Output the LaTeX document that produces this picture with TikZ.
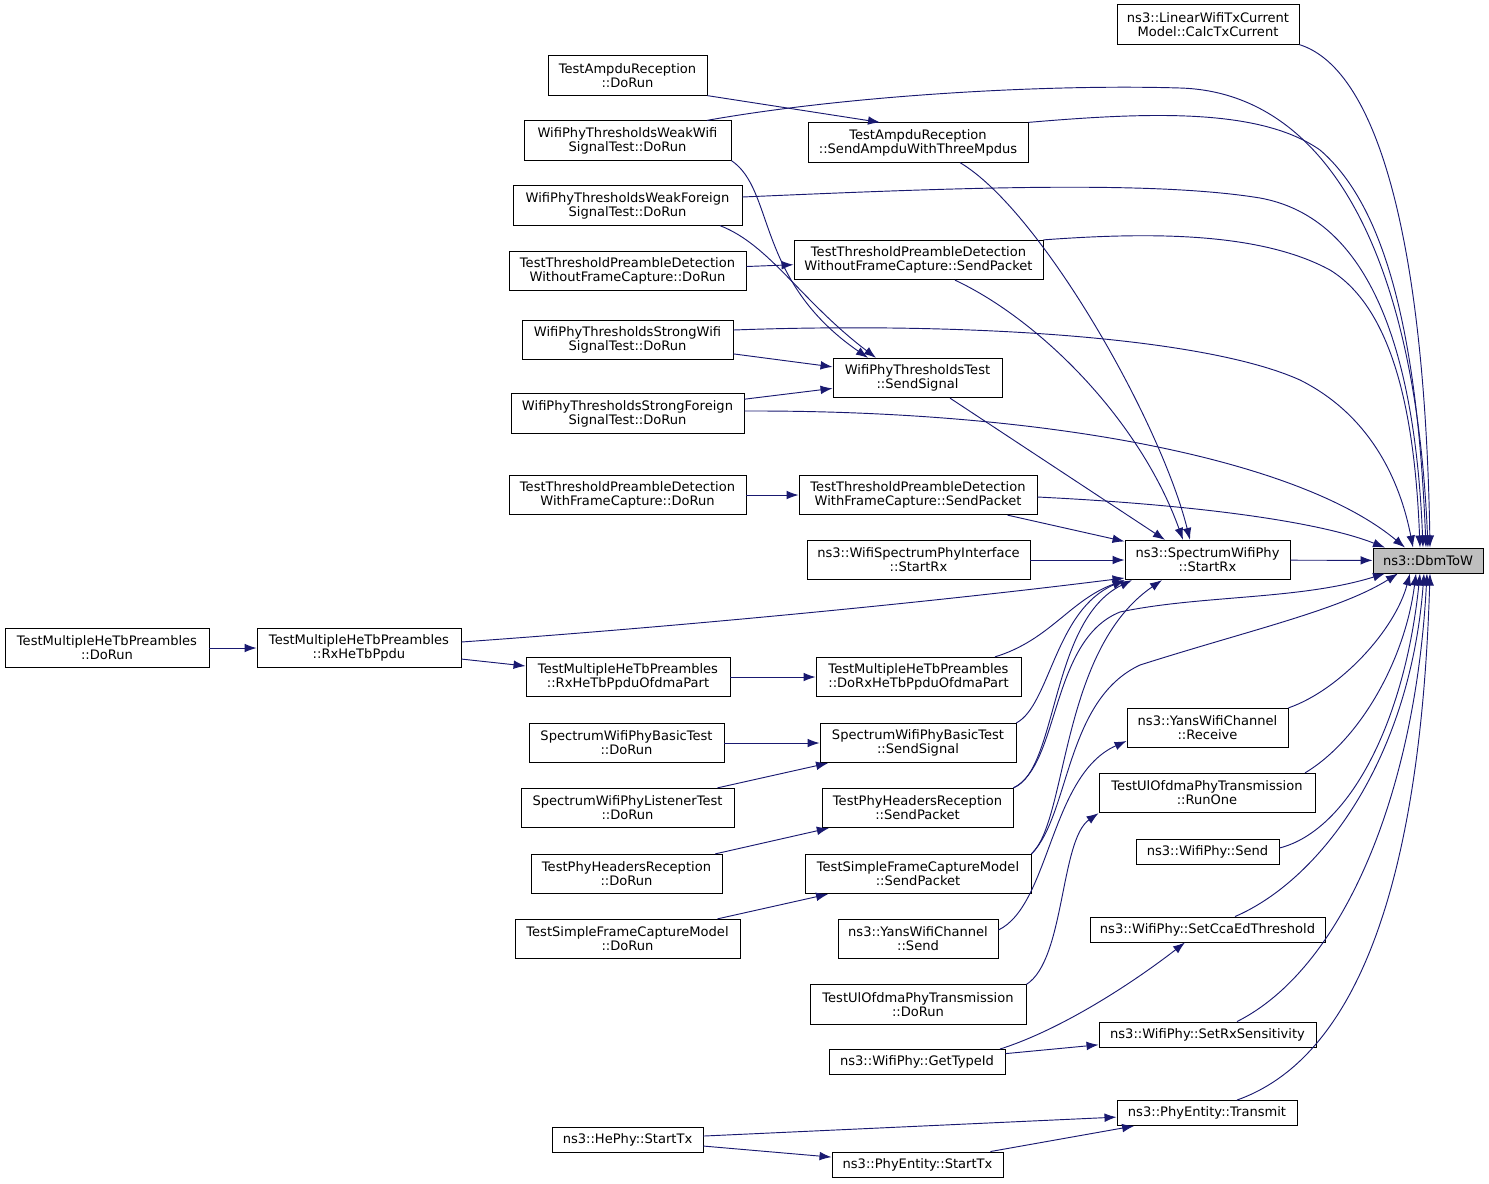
\documentclass[tikz,border=0pt]{standalone}
\usepackage{fontspec}
\newfontfamily\doxfont{DejaVu Sans}
\usetikzlibrary{arrows.meta}
\definecolor{callblue}{HTML}{191970}
\definecolor{rootgray}{HTML}{BFBFBF}
\tikzset{bw/.style={minimum width=#1*0.75pt}}

\begin{document}
\begin{tikzpicture}[x=0.75pt,y=-0.75pt]
\tikzstyle{fn}=[rectangle, draw=black, fill=white, line width=0.7pt, align=center, inner sep=0pt, minimum height=29.5pt, font=\doxfont\fontsize{9.8}{10.5}\selectfont]
\tikzstyle{fn1}=[fn, minimum height=18.75pt]
\tikzstyle{fnroot}=[fn1, fill=rootgray]
\tikzstyle{calls}=[draw=callblue, line width=0.7pt, -{Latex[length=9pt,width=6.5pt]}]
\useasboundingbox (0,0) rectangle (1489,1183);
\node (DbmToW) [fnroot, bw=110] at (1428,560.5) {ns3::DbmToW};
\node (CalcTx) [fn, bw=182] at (1208,24.5) {ns3::LinearWifiTxCurrent\\Model::CalcTxCurrent};
\node (AmpduDoRun) [fn, bw=159] at (627.5,75.5) {TestAmpduReception\\::DoRun};
\node (WeakWifi) [fn, bw=207] at (627.5,140.5) {WifiPhyThresholdsWeakWifi\\SignalTest::DoRun};
\node (SendAmpdu) [fn, bw=220] at (918,142.5) {TestAmpduReception\\::SendAmpduWithThreeMpdus};
\node (WeakForeign) [fn, bw=229] at (627.5,205.5) {WifiPhyThresholdsWeakForeign\\SignalTest::DoRun};
\node (PreWoDoRun) [fn, bw=237] at (627.5,271) {TestThresholdPreambleDetection\\WithoutFrameCapture::DoRun};
\node (PreWoSend) [fn, bw=249] at (918.5,260) {TestThresholdPreambleDetection\\WithoutFrameCapture::SendPacket};
\node (StrongWifi) [fn, bw=211] at (627.5,340) {WifiPhyThresholdsStrongWifi\\SignalTest::DoRun};
\node (SendSignalThr) [fn, bw=169] at (917.5,378) {WifiPhyThresholdsTest\\::SendSignal};
\node (StrongForeign) [fn, bw=233] at (627.5,413.5) {WifiPhyThresholdsStrongForeign\\SignalTest::DoRun};
\node (PreWDoRun) [fn, bw=237] at (627.5,495) {TestThresholdPreambleDetection\\WithFrameCapture::DoRun};
\node (PreWSend) [fn, bw=238] at (918,495) {TestThresholdPreambleDetection\\WithFrameCapture::SendPacket};
\node (SpecIface) [fn, bw=223] at (918.5,560) {ns3::WifiSpectrumPhyInterface\\::StartRx};
\node (StartRx) [fn, bw=165] at (1207.5,560) {ns3::SpectrumWifiPhy\\::StartRx};
\node (MultiDoRun) [fn, bw=204] at (107,648) {TestMultipleHeTbPreambles\\::DoRun};
\node (RxHeTbPpdu) [fn, bw=204] at (359,648) {TestMultipleHeTbPreambles\\::RxHeTbPpdu};
\node (RxOfdmaPart) [fn, bw=204] at (628,677) {TestMultipleHeTbPreambles\\::RxHeTbPpduOfdmaPart};
\node (DoRxOfdma) [fn, bw=205] at (918.5,677) {TestMultipleHeTbPreambles\\::DoRxHeTbPpduOfdmaPart};
\node (BasicDoRun) [fn, bw=195] at (626.5,743) {SpectrumWifiPhyBasicTest\\::DoRun};
\node (BasicSend) [fn, bw=196] at (918,743) {SpectrumWifiPhyBasicTest\\::SendSignal};
\node (ListenerDoRun) [fn, bw=213] at (627.5,808) {SpectrumWifiPhyListenerTest\\::DoRun};
\node (HdrSend) [fn, bw=191] at (917.5,808) {TestPhyHeadersReception\\::SendPacket};
\node (HdrDoRun) [fn, bw=191] at (626.5,874) {TestPhyHeadersReception\\::DoRun};
\node (FrameSend) [fn, bw=226] at (918,874) {TestSimpleFrameCaptureModel\\::SendPacket};
\node (FrameDoRun) [fn, bw=225] at (627.5,939) {TestSimpleFrameCaptureModel\\::DoRun};
\node (YansSend) [fn, bw=160] at (918,939) {ns3::YansWifiChannel\\::Send};
\node (UlDoRun) [fn, bw=216] at (918,1004.5) {TestUlOfdmaPhyTransmission\\::DoRun};
\node (YansRecv) [fn, bw=161] at (1207.5,728) {ns3::YansWifiChannel\\::Receive};
\node (UlRunOne) [fn, bw=216] at (1207,793) {TestUlOfdmaPhyTransmission\\::RunOne};
\node (WifiSend) [fn1, bw=143] at (1207.5,851.5) {ns3::WifiPhy::Send};
\node (SetCca) [fn1, bw=235] at (1207.5,929.5) {ns3::WifiPhy::SetCcaEdThreshold};
\node (SetRxSens) [fn1, bw=217] at (1207.5,1034.5) {ns3::WifiPhy::SetRxSensitivity};
\node (GetTypeId) [fn1, bw=176] at (917,1062) {ns3::WifiPhy::GetTypeId};
\node (Transmit) [fn1, bw=180] at (1207,1113) {ns3::PhyEntity::Transmit};
\node (HeStartTx) [fn1, bw=151] at (627.5,1139.5) {ns3::HePhy::StartTx};
\node (PhyStartTx) [fn1, bw=171] at (917.5,1164.5) {ns3::PhyEntity::StartTx};
\draw[calls] (CalcTx.south east) .. controls (1380,70) and (1425,250) .. (DbmToW.north -| 1430,0);
\draw[calls] (AmpduDoRun.south east) -- (SendAmpdu.north -| 880,0);
\draw[calls] (SendAmpdu.north east) .. controls (1150,112) and (1260,108) .. (1320,150) .. controls (1390,210) and (1418,350) .. (DbmToW.north -| 1426,0);
\draw[calls] (WeakWifi.north -| 707,0) .. controls (850,95) and (1050,84) .. (1180,88) .. controls (1320,92) and (1415,240) .. (DbmToW.north -| 1428,0);
\draw[calls] (WeakWifi.south east) .. controls (775,190) and (755,280) .. (SendSignalThr.north -| 868,0);
\draw[calls] (WeakForeign.east |- 0,197) .. controls (950,188) and (1150,180) .. (1260,198) .. controls (1370,218) and (1415,350) .. (DbmToW.north -| 1423,0);
\draw[calls] (WeakForeign.south -| 720,0) .. controls (770,245) and (800,300) .. (SendSignalThr.north -| 876,0);
\draw[calls] (PreWoDoRun) -- (PreWoSend);
\draw[calls] (PreWoSend.north east) .. controls (1150,232) and (1260,232) .. (1330,270) .. controls (1395,310) and (1415,420) .. (DbmToW.north -| 1420,0);
\draw[calls] (SendAmpdu.south -| 960,0) .. controls (1040,210) and (1160,420) .. (StartRx.north -| 1190,0);
\draw[calls] (PreWoSend.south -| 955,0) .. controls (1040,320) and (1140,420) .. (StartRx.north -| 1183,0);
\draw[calls] (StrongWifi.east |- 0,330) .. controls (950,322) and (1200,335) .. (1300,380) .. controls (1370,415) and (1400,480) .. (DbmToW.north -| 1413,0);
\draw[calls] (StrongWifi) -- (SendSignalThr);
\draw[calls] (StrongForeign) -- (SendSignalThr);
\draw[calls] (StrongForeign.east |- 0,411) .. controls (1050,410) and (1300,460) .. (DbmToW.north -| 1405,0);
\draw[calls] (SendSignalThr.south -| 950,0) -- (StartRx.north -| 1165,0);
\draw[calls] (PreWDoRun) -- (PreWSend);
\draw[calls] (PreWSend.east |- 0,497) .. controls (1200,505) and (1320,522) .. (DbmToW.north -| 1385,0);
\draw[calls] (PreWSend) -- (StartRx);
\draw[calls] (SpecIface) -- (StartRx);
\draw[calls] (StartRx) -- (DbmToW);
\draw[calls] (RxHeTbPpdu.east |- 0,642) .. controls (700,625) and (950,600) .. (StartRx.west |- 0,578);
\draw[calls] (MultiDoRun) -- (RxHeTbPpdu);
\draw[calls] (RxHeTbPpdu) -- (RxOfdmaPart);
\draw[calls] (RxOfdmaPart) -- (DoRxOfdma);
\draw[calls] (DoRxOfdma.north -| 995,0) .. controls (1050,640) and (1070,600) .. (StartRx.south west);
\draw[calls] (BasicDoRun) -- (BasicSend);
\draw[calls] (ListenerDoRun) -- (BasicSend);
\draw[calls] (BasicSend.north east) .. controls (1050,705) and (1055,610) .. (StartRx.south west);
\draw[calls] (HdrDoRun) -- (HdrSend);
\draw[calls] (HdrSend.north east) .. controls (1058,770) and (1050,620) .. (StartRx.south -| 1132,0);
\draw[calls] (HdrSend.north east) .. controls (1060,765) and (1050,640) .. (1120,612) .. controls (1200,595) and (1300,600) .. (DbmToW.south -| 1385,0);
\draw[calls] (FrameDoRun) -- (FrameSend);
\draw[calls] (FrameSend.north east) .. controls (1068,820) and (1060,650) .. (StartRx.south -| 1162,0);
\draw[calls] (FrameSend.north east) .. controls (1070,815) and (1065,700) .. (1140,665) .. controls (1250,630) and (1340,610) .. (DbmToW.south -| 1398,0);
\draw[calls] (YansSend.east |- 0,930) .. controls (1050,905) and (1050,775) .. (YansRecv.west |- 0,741);
\draw[calls] (UlDoRun.north east) .. controls (1065,960) and (1060,840) .. (UlRunOne.south west);
\draw[calls] (YansRecv.north east) .. controls (1340,690) and (1395,630) .. (DbmToW.south -| 1410,0);
\draw[calls] (UlRunOne.north -| 1305,0) .. controls (1360,740) and (1405,660) .. (DbmToW.south -| 1416,0);
\draw[calls] (WifiSend.east |- 0,848) .. controls (1350,830) and (1405,720) .. (DbmToW.south -| 1420,0);
\draw[calls] (SetCca.north -| 1235,0) .. controls (1320,880) and (1410,760) .. (DbmToW.south -| 1424,0);
\draw[calls] (SetRxSens.north -| 1237,0) .. controls (1340,970) and (1415,800) .. (DbmToW.south -| 1427,0);
\draw[calls] (Transmit.north -| 1237,0) .. controls (1350,1060) and (1420,900) .. (DbmToW.south -| 1430,0);
\draw[calls] (GetTypeId.north -| 1000,0) .. controls (1060,1030) and (1130,985) .. (SetCca.south -| 1185,0);
\draw[calls] (GetTypeId) -- (SetRxSens);
\draw[calls] (HeStartTx) -- (Transmit);
\draw[calls] (HeStartTx) -- (PhyStartTx);
\draw[calls] (PhyStartTx) -- (Transmit);
\end{tikzpicture}
\end{document}
